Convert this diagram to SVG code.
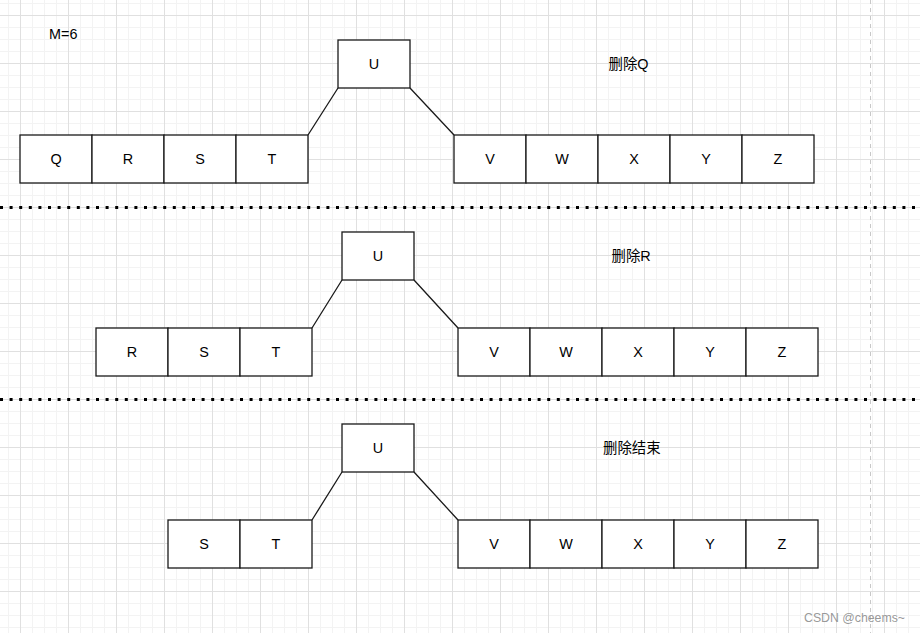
<svg xmlns="http://www.w3.org/2000/svg" width="920" height="633" viewBox="0 0 920 633">
<defs>
<pattern id="minor" x="8" y="3" width="12" height="12" patternUnits="userSpaceOnUse">
<path d="M0.5 0V12M0 0.5H12" stroke="#f3f3f3" stroke-width="1" fill="none"/>
</pattern>
<pattern id="major" x="20" y="15" width="48" height="48" patternUnits="userSpaceOnUse">
<path d="M0.5 0V48M0 0.5H48" stroke="#e0e0e0" stroke-width="1" fill="none"/>
</pattern>
</defs>
<style>
.box{fill:#fff;stroke:#1a1a1a;stroke-width:1.3}
.lbl{font-family:"Liberation Sans",Arial,sans-serif;font-size:14.4px;fill:#000;text-anchor:middle}
.note{font-family:"Liberation Sans","Noto Sans CJK SC",sans-serif;font-size:14.4px;fill:#000}
.conn{stroke:#1a1a1a;stroke-width:1.3;fill:none}
.dots{stroke:#000;stroke-width:3;stroke-dasharray:3 6.6;fill:none}
</style>
<rect width="920" height="633" fill="#fff"/>
<rect width="920" height="633" fill="url(#minor)"/>
<rect width="920" height="633" fill="url(#major)"/>
<line x1="870.5" y1="0" x2="870.5" y2="633" stroke="#c8c8c8" stroke-width="1" stroke-dasharray="4 4"/>

<g id="separators">
<line class="dots" x1="0" y1="207.5" x2="920" y2="207.5"/>
<line class="dots" x1="0" y1="399.5" x2="920" y2="399.5"/>
</g>

<g id="connectors">
<path class="conn" d="M338 88L308 135M410 88L454 135"/>
<path class="conn" d="M342 280L312 328M414 280L458 328"/>
<path class="conn" d="M342 472L312 520M414 472L458 520"/>
</g>

<text class="note" x="49" y="39">M=6</text>
<text class="note" x="608.5" y="69">删除Q</text>
<text class="note" x="611.5" y="261">删除R</text>
<text class="note" x="603" y="453">删除结束</text>

<!-- Level 1 -->
<g id="u1"><rect class="box" x="338" y="40" width="72" height="48"/><text class="lbl" x="374" y="69">U</text></g>
<g id="q1"><rect class="box" x="20" y="135" width="72" height="48"/><text class="lbl" x="56" y="164">Q</text></g>
<g id="r1"><rect class="box" x="92" y="135" width="72" height="48"/><text class="lbl" x="128" y="164">R</text></g>
<g id="s1"><rect class="box" x="164" y="135" width="72" height="48"/><text class="lbl" x="200" y="164">S</text></g>
<g id="t1"><rect class="box" x="236" y="135" width="72" height="48"/><text class="lbl" x="272" y="164">T</text></g>
<g id="v1"><rect class="box" x="454" y="135" width="72" height="48"/><text class="lbl" x="490" y="164">V</text></g>
<g id="w1"><rect class="box" x="526" y="135" width="72" height="48"/><text class="lbl" x="562" y="164">W</text></g>
<g id="x1"><rect class="box" x="598" y="135" width="72" height="48"/><text class="lbl" x="634" y="164">X</text></g>
<g id="y1"><rect class="box" x="670" y="135" width="72" height="48"/><text class="lbl" x="706" y="164">Y</text></g>
<g id="z1"><rect class="box" x="742" y="135" width="72" height="48"/><text class="lbl" x="778" y="164">Z</text></g>

<!-- Level 2 -->
<g id="u2"><rect class="box" x="342" y="232" width="72" height="48"/><text class="lbl" x="378" y="261">U</text></g>
<g id="r2"><rect class="box" x="96" y="328" width="72" height="48"/><text class="lbl" x="132" y="357">R</text></g>
<g id="s2"><rect class="box" x="168" y="328" width="72" height="48"/><text class="lbl" x="204" y="357">S</text></g>
<g id="t2"><rect class="box" x="240" y="328" width="72" height="48"/><text class="lbl" x="276" y="357">T</text></g>
<g id="v2"><rect class="box" x="458" y="328" width="72" height="48"/><text class="lbl" x="494" y="357">V</text></g>
<g id="w2"><rect class="box" x="530" y="328" width="72" height="48"/><text class="lbl" x="566" y="357">W</text></g>
<g id="x2"><rect class="box" x="602" y="328" width="72" height="48"/><text class="lbl" x="638" y="357">X</text></g>
<g id="y2"><rect class="box" x="674" y="328" width="72" height="48"/><text class="lbl" x="710" y="357">Y</text></g>
<g id="z2"><rect class="box" x="746" y="328" width="72" height="48"/><text class="lbl" x="782" y="357">Z</text></g>

<!-- Level 3 -->
<g id="u3"><rect class="box" x="342" y="424" width="72" height="48"/><text class="lbl" x="378" y="453">U</text></g>
<g id="s3"><rect class="box" x="168" y="520" width="72" height="48"/><text class="lbl" x="204" y="549">S</text></g>
<g id="t3"><rect class="box" x="240" y="520" width="72" height="48"/><text class="lbl" x="276" y="549">T</text></g>
<g id="v3"><rect class="box" x="458" y="520" width="72" height="48"/><text class="lbl" x="494" y="549">V</text></g>
<g id="w3"><rect class="box" x="530" y="520" width="72" height="48"/><text class="lbl" x="566" y="549">W</text></g>
<g id="x3"><rect class="box" x="602" y="520" width="72" height="48"/><text class="lbl" x="638" y="549">X</text></g>
<g id="y3"><rect class="box" x="674" y="520" width="72" height="48"/><text class="lbl" x="710" y="549">Y</text></g>
<g id="z3"><rect class="box" x="746" y="520" width="72" height="48"/><text class="lbl" x="782" y="549">Z</text></g>

<text x="804" y="622" font-family="'Liberation Sans',Arial,sans-serif" font-size="12.3" fill="#8c8c8c" fill-opacity="0.9">CSDN @cheems~</text>
</svg>
